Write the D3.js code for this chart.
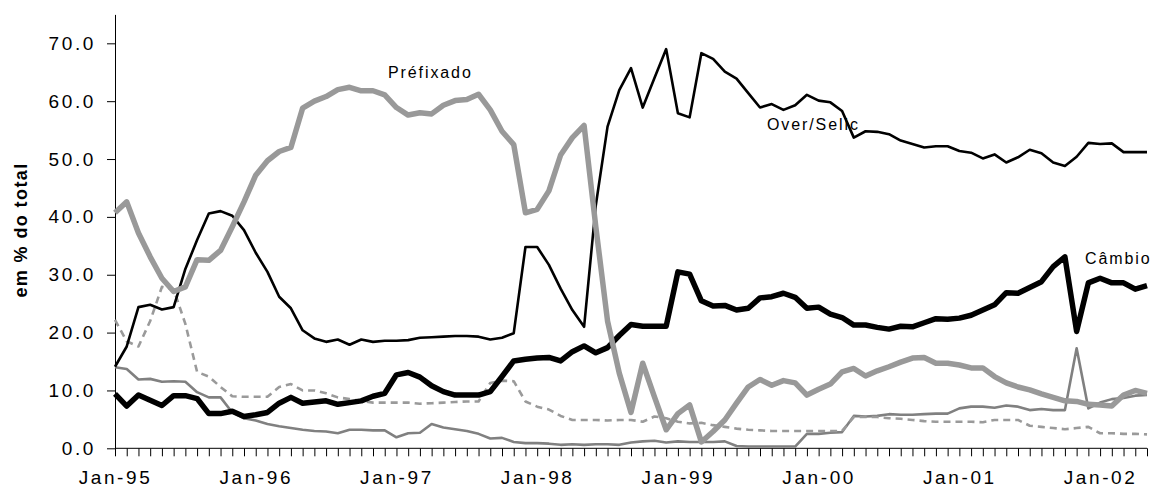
<!DOCTYPE html>
<html>
<head>
<meta charset="utf-8">
<script src="https://cdn.jsdelivr.net/npm/d3@7"></script>
<style>
  body { margin: 0; background: #fff; }
  svg text { font-family: "Liberation Sans", Arial, sans-serif; fill: #000; }
</style>
</head>
<body>
<div id="Chart"></div>
<script>
// months Jan-95 .. May-02
var months = d3.timeMonth.range(new Date(1995, 0, 1), new Date(2002, 5, 1)).map(d3.timeFormat("%b-%y"))
var tickLabels = ["Jan-95", "Jan-96", "Jan-97", "Jan-98", "Jan-99", "Jan-00", "Jan-01", "Jan-02"]
var yTicks = [0, 10, 20, 30, 40, 50, 60, 70]

var overSelic = [14.1, 17.6, 24.4, 24.8, 24.0, 24.4, 31.0, 36.0, 40.6, 41.0, 40.2, 37.7, 33.8, 30.5, 26.2, 24.2,
  20.4, 19.0, 18.4, 18.8, 17.9, 18.8, 18.4, 18.6, 18.6, 18.7, 19.1, 19.2, 19.3, 19.4, 19.4, 19.3, 18.8, 19.1, 19.9,
  34.8, 34.8, 31.7, 27.6, 23.9, 21.0, 42.0, 55.6, 61.9, 65.7, 58.9, 64.0, 69.0, 57.9, 57.2, 68.3, 67.3, 65.1, 63.9,
  61.4, 58.9, 59.5, 58.5, 59.3, 61.1, 60.1, 59.8, 58.3, 53.7, 54.8, 54.7, 54.3, 53.2, 52.6, 52.0, 52.2, 52.2, 51.4,
  51.1, 50.1, 50.8, 49.4, 50.3, 51.6, 51.0, 49.4, 48.8, 50.4, 52.8, 52.6, 52.7, 51.2, 51.2, 51.2]
var prefixado = [40.7, 42.6, 37.2, 33.1, 29.4, 27.1, 27.9, 32.6, 32.5, 34.2, 38.3, 42.6, 47.2, 49.7, 51.3, 52.0,
  58.8, 60.0, 60.8, 62.0, 62.4, 61.8, 61.8, 61.1, 58.9, 57.6, 58.0, 57.8, 59.3, 60.1, 60.3, 61.2, 58.5, 54.8, 52.5,
  40.7, 41.3, 44.5, 50.7, 53.7, 55.8, 38.3, 22.0, 13.0, 6.2, 14.7, 8.9, 3.2, 6.0, 7.5, 1.1, 2.9, 4.9, 7.8,
  10.6, 11.9, 10.9, 11.7, 11.3, 9.2, 10.2, 11.1, 13.2, 13.8, 12.5, 13.4, 14.1, 14.9, 15.6, 15.7, 14.7, 14.7, 14.4,
  13.9, 13.9, 12.4, 11.3, 10.6, 10.1, 9.4, 8.8, 8.2, 8.1, 7.6, 7.5, 7.3, 9.2, 10.0, 9.5]
var cambio = [9.4, 7.3, 9.2, 8.3, 7.4, 9.1, 9.1, 8.6, 6.0, 6.0, 6.4, 5.5, 5.8, 6.2, 7.8, 8.8,
  7.8, 8.0, 8.2, 7.6, 7.9, 8.2, 9.0, 9.5, 12.7, 13.1, 12.3, 10.8, 9.8, 9.2, 9.2, 9.2, 9.8, 12.4, 15.1,
  15.4, 15.6, 15.7, 15.1, 16.7, 17.7, 16.5, 17.4, 19.5, 21.4, 21.1, 21.1, 21.1, 30.5, 30.1, 25.5, 24.6, 24.7, 23.9,
  24.2, 26.0, 26.2, 26.8, 26.1, 24.2, 24.4, 23.2, 22.6, 21.3, 21.3, 20.9, 20.6, 21.1, 21.0, 21.7, 22.4, 22.3, 22.5,
  23.0, 23.9, 24.8, 26.9, 26.8, 27.8, 28.8, 31.4, 33.1, 20.2, 28.6, 29.4, 28.6, 28.6, 27.5, 28.1]
var dashedSeries = [22.2, 18.5, 17.6, 22.0, 27.9, 27.5, 21.5, 13.2, 12.4, 10.6, 9.0, 8.9, 8.9, 8.9, 10.6, 11.1,
  10.0, 10.0, 9.5, 8.8, 8.5, 8.2, 7.9, 7.9, 7.9, 7.9, 7.7, 7.8, 7.9, 8.0, 8.1, 8.1, 11.3, 11.7, 11.6,
  8.1, 7.2, 6.7, 5.6, 4.9, 4.9, 4.9, 4.8, 4.9, 4.9, 4.6, 5.5, 5.2, 4.6, 4.3, 4.4, 4.0, 3.7, 3.4,
  3.2, 3.1, 3.0, 3.0, 3.0, 3.0, 3.0, 3.0, 3.0, 5.4, 5.4, 5.4, 5.2, 5.1, 4.9, 4.7, 4.6, 4.6, 4.6,
  4.6, 4.5, 4.9, 4.9, 4.9, 3.9, 3.7, 3.5, 3.3, 3.5, 3.7, 2.6, 2.6, 2.5, 2.5, 2.4]
var graySeries = [14.0, 13.7, 11.9, 12.0, 11.5, 11.6, 11.5, 9.7, 8.8, 8.8, 6.2, 5.2, 4.8, 4.2, 3.8, 3.5,
  3.2, 3.0, 2.9, 2.6, 3.2, 3.2, 3.1, 3.1, 1.9, 2.6, 2.7, 4.2, 3.6, 3.3, 3.0, 2.5, 1.7, 1.8, 1.1,
  0.9, 0.9, 0.8, 0.6, 0.7, 0.6, 0.7, 0.7, 0.6, 1.0, 1.2, 1.3, 1.0, 1.2, 1.1, 1.1, 1.1, 1.2, 0.4,
  0.3, 0.3, 0.3, 0.3, 0.3, 2.5, 2.5, 2.7, 2.8, 5.6, 5.5, 5.6, 5.9, 5.8, 5.8, 5.9, 6.0, 6.0, 6.9,
  7.2, 7.2, 7.0, 7.4, 7.2, 6.6, 6.8, 6.6, 6.6, 17.3, 6.9, 7.9, 8.5, 8.7, 9.1, 9.2]

var Width = 1156, Height = 490
var svg = d3.select("#Chart").append("svg")
  .attr("width", Width).attr("height", Height)

var X = d3.scalePoint().domain(months).range([115, 1147])
var Y = d3.scaleLinear().domain([0, 75]).range([448.3, 14.4])

// y axis
var yAxis = svg.append("g")
  .attr("transform", "translate(115,0)")
  .call(d3.axisLeft(Y).tickValues(yTicks).tickFormat(d3.format(".1f")).tickSize(8).tickSizeOuter(0))
yAxis.selectAll("text").attr("x", -19).style("font-size", "19px").style("letter-spacing", "2.6px")
yAxis.selectAll("path,line").attr("stroke", "#000")

// x axis
var xAxis = svg.append("g")
  .attr("transform", "translate(0,448.3)")
  .call(d3.axisBottom(X).tickSize(8).tickSizeOuter(0)
    .tickFormat(d => tickLabels.includes(d) ? d : ""))
xAxis.selectAll("text").attr("y", 22).style("font-size", "19px").style("letter-spacing", "2.6px")
xAxis.selectAll("path,line").attr("stroke", "#000")
xAxis.select(".domain").attr("d", `M115,0H${X(months[months.length - 1])}`)

svg.append("text")
  .attr("transform", "translate(27,230) rotate(-90)")
  .attr("text-anchor", "middle")
  .style("font-size", "18px").style("font-weight", "bold").style("letter-spacing", "1.4px")
  .text("em % do total")

var line = d3.line().x((d, i) => X(months[i])).y(d => Y(d))

var series = [
  {data: graySeries, color: "#808080", width: 2.6},
  {data: dashedSeries, color: "#9a9a9a", width: 2.6, dash: "7,5"},
  {data: cambio, color: "#000", width: 5.5},
  {data: overSelic, color: "#000", width: 2.6},
  {data: prefixado, color: "#999", width: 5.5}
]
svg.append("g").selectAll("path")
  .data(series).enter().append("path")
  .attr("d", d => line(d.data))
  .attr("fill", "none")
  .attr("stroke", d => d.color)
  .attr("stroke-width", d => d.width)
  .attr("stroke-linejoin", "round")
  .attr("stroke-dasharray", d => d.dash || null)

var labels = [
  {text: "Préfixado", x: 388, y: 78},
  {text: "Over/Selic", x: 767, y: 130},
  {text: "Câmbio", x: 1085, y: 264}
]
svg.append("g").selectAll("text")
  .data(labels).enter().append("text")
  .attr("x", d => d.x).attr("y", d => d.y)
  .style("font-size", "16px").style("letter-spacing", "1.9px")
  .text(d => d.text)
</script>
</body>
</html>
